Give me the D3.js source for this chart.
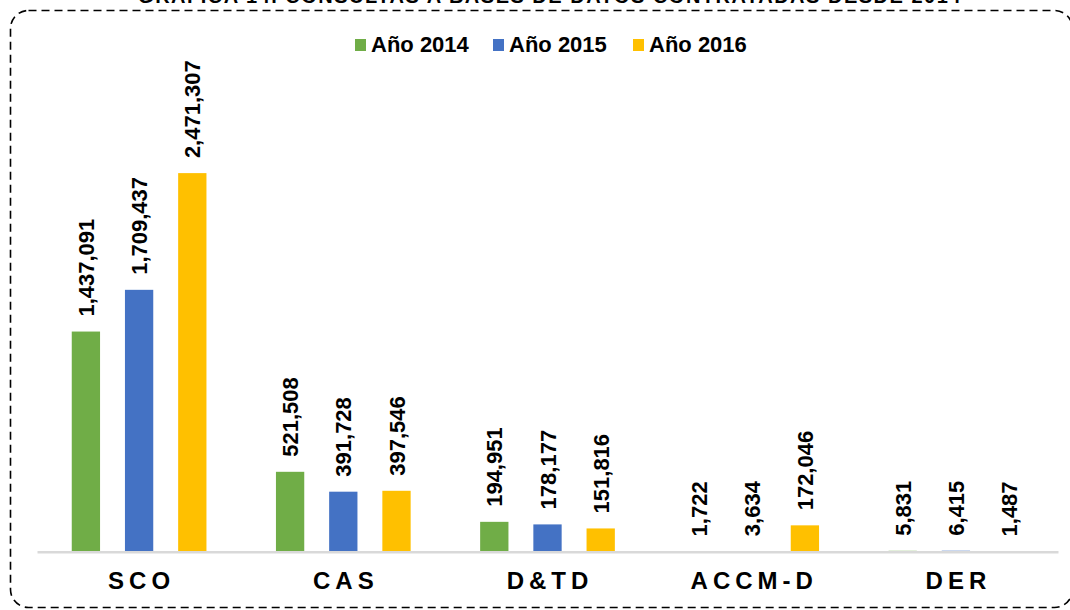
<!DOCTYPE html>
<html><head><meta charset="utf-8">
<script src="https://cdn.jsdelivr.net/npm/d3@7"></script>
<style>
html,body{margin:0;padding:0;background:#fff;}
svg{display:block;font-family:Arial,"Liberation Sans",sans-serif;}
</style></head>
<body><svg id="chart" width="1070" height="610"></svg>
<script>
const title = "GRÁFICA 14. CONSULTAS A BASES DE DATOS CONTRATADAS DESDE 2014";
const categories = ["SCO", "CAS", "D&TD", "ACCM-D", "DER"];
const years = ["Año 2014", "Año 2015", "Año 2016"];
const values2014 = [1437091, 521508, 194951, 1722, 5831];
const values2015 = [1709437, 391728, 178177, 3634, 6415];
const values2016 = [2471307, 397546, 151816, 172046, 1487];
const colors = ["#70AD47", "#4472C4", "#FFC000"];

const series = [values2014, values2015, values2016];
const svg = d3.select("#chart");

// border
svg.append("rect").attr("x", 10.5).attr("y", 10.5).attr("width", 1062).attr("height", 597)
  .attr("rx", 18).attr("fill", "none").attr("stroke", "#000").attr("stroke-width", 1.6)
  .attr("stroke-dasharray", "8,5");

// title (clipped at the top edge, as in the reference)
svg.append("text").attr("x", 550).attr("y", 3).attr("text-anchor", "middle")
  .attr("font-size", 20).attr("font-weight", "bold").attr("letter-spacing", 1.5)
  .text(title);

const baseY = 551.7;
const x0 = d3.scaleBand().domain(categories).range([37, 1058]).padding(0);
const bw0 = x0.bandwidth();
const x1 = d3.scaleBand().domain(years).range([bw0/2 - 79.8, bw0/2 + 79.8])
  .paddingInner(0.468).paddingOuter(0.234);
const y = d3.scaleLinear().domain([0, 2600000]).range([baseY, baseY - 398.3]);

const g = svg.append("g");
categories.forEach((c, i) => {
  const gg = g.append("g").attr("transform", `translate(${x0(c)},0)`);
  years.forEach((yr, j) => {
    const v = series[j][i];
    gg.append("rect").attr("x", x1(yr)).attr("y", y(v)).attr("width", x1.bandwidth())
      .attr("height", baseY - y(v)).attr("fill", colors[j]);
    const cx = x1(yr) + x1.bandwidth()/2;
    const ty = y(v) - 15;
    gg.append("text").attr("transform", `translate(${cx + 8},${ty}) rotate(-90)`)
      .attr("font-size", 22).attr("font-weight", "bold").attr("fill", "#000")
      .text(d3.format(",")(v));
  });
});

// axis line
const xAxis = d3.axisBottom(x0).tickSize(0).tickPadding(20);
const ax = svg.append("g").attr("transform", `translate(0,${baseY})`).call(xAxis);
ax.select(".domain").attr("stroke", "#d9d9d9").attr("stroke-width", 2.5);
ax.selectAll(".tick text").attr("font-size", 24).attr("font-weight", "bold")
  .attr("fill", "#000").attr("letter-spacing", 5).attr("font-family", "Arial, 'Liberation Sans', sans-serif")
  .attr("dy", "0.71em").attr("dx", 2.5);

// legend
const legendX = [355, 493, 633];
const lg = svg.append("g");
years.forEach((yr, j) => {
  lg.append("rect").attr("x", legendX[j]).attr("y", 39).attr("width", 11).attr("height", 12).attr("fill", colors[j]);
  lg.append("text").attr("x", legendX[j] + 16).attr("y", 52).attr("font-size", 22)
    .attr("font-weight", "bold").attr("fill", "#000").text(yr);
});
</script></body></html>
